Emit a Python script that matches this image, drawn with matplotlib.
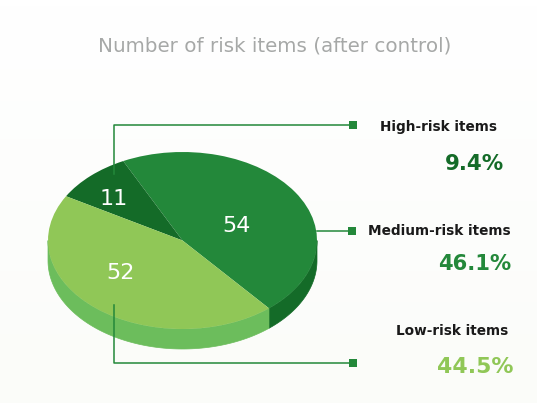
import numpy as np
import matplotlib
matplotlib.use('Agg')
import matplotlib.pyplot as plt

# values
categories = ['Medium-risk items', 'High-risk items', 'Low-risk items']
counts = [54, 11, 52]
percents = ['46.1%', '9.4%', '44.5%']
top_colors = ['#23883a', '#146b28', '#90c757']
side_colors = ['#146b28', '#146b28', '#6cbd5c']

W, H = 537, 403
cx, cy, rx, ry = 182.5, 240.5, 134.5, 88.5
depth = 20
start = -50

fig = plt.figure(figsize=(W / 100, H / 100), dpi=100)

# very faint background gradient
bg = fig.add_axes([0, 0, 1, 1])
shade = np.linspace(0, 1, 64).reshape(-1, 1, 1)
top_col = np.array([1.0, 1.0, 1.0])
bot_col = np.array([251, 252, 249]) / 255
bg.imshow(top_col + (bot_col - top_col) * shade, extent=[0, W, H, 0], aspect='auto')
bg.set_xlim(0, W)
bg.set_ylim(H, 0)
bg.axis('off')

# pie axes spans the top ellipse exactly, so the pie is squashed by the axes
pie_ax = fig.add_axes([(cx - rx) / W, 1 - (cy + ry) / H, 2 * rx / W, 2 * ry / H])
pie_ax.patch.set_alpha(0)

# side wall first
d = depth / ry
angles = start + np.cumsum([0] + counts) / sum(counts) * 360
for i in range(len(counts)):
    a0, a1 = angles[i], angles[i + 1]
    for shift in [0, 360]:
        lo = max(a0 + shift, 180)
        hi = min(a1 + shift, 360)
        if lo < hi:
            t = np.radians(np.linspace(lo, hi, 120))
            xs = np.r_[np.cos(t), np.cos(t)[::-1]]
            ys = np.r_[np.sin(t), np.sin(t)[::-1] - d]
            pie_ax.fill(xs, ys, color=side_colors[i], lw=0.5, clip_on=False)

wedges, _ = pie_ax.pie(counts, colors=top_colors, startangle=start, radius=1,
                       wedgeprops={'linewidth': 0})
for w in wedges:
    w.set_clip_on(False)
pie_ax.set_aspect('auto')
pie_ax.set_xlim(-1, 1)
pie_ax.set_ylim(-1, 1)

# leader lines and text, in pixel coordinates
ax = fig.add_axes([0, 0, 1, 1])
ax.patch.set_alpha(0)
ax.set_xlim(0, W)
ax.set_ylim(H, 0)
ax.axis('off')

line_col = '#23883a'
ax.plot([114, 114, 353], [174, 125, 125], color=line_col, lw=1.1)
ax.plot([317, 352], [231, 231], color=line_col, lw=1.1)
ax.plot([114, 114, 353], [305, 363, 363], color=line_col, lw=1.1)
ax.plot([353, 352, 353], [125, 231, 363], ls='none', marker='s', ms=5.6,
        color=line_col, mew=0)

font = 'DejaVu Sans'
ax.text(275, 46.5, 'Number of risk items (after control)', color='#a6a8a7', fontsize=14.3,
        ha='center', va='center', family=font)

ax.text(114, 199, str(counts[1]), color='white', fontsize=16, ha='center', va='center', family=font)
ax.text(236, 226, str(counts[0]), color='white', fontsize=16, ha='center', va='center', family=font)
ax.text(120, 273, str(counts[2]), color='white', fontsize=16, ha='center', va='center', family=font)

ax.text(439, 127, categories[1], color='#1a1a1a', fontsize=9.8, fontweight='bold',
        ha='center', va='center', family=font)
ax.text(439.5, 231, categories[0], color='#1a1a1a', fontsize=9.8, fontweight='bold',
        ha='center', va='center', family=font)
ax.text(452, 331, categories[2], color='#1a1a1a', fontsize=9.8, fontweight='bold',
        ha='center', va='center', family=font)

ax.text(474.5, 164, percents[1], color=top_colors[1], fontsize=15.4, fontweight='bold',
        ha='center', va='center', family=font)
ax.text(475, 264.5, percents[0], color=top_colors[0], fontsize=15.2, fontweight='bold',
        ha='center', va='center', family=font)
ax.text(475, 367, percents[2], color=top_colors[2], fontsize=15.8, fontweight='bold',
        ha='center', va='center', family=font)

fig.savefig('out.png', dpi=100)
